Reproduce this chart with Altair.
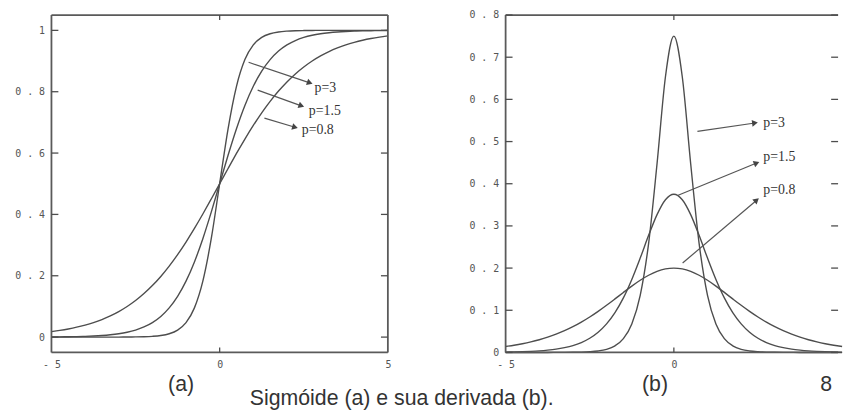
import altair as alt
import pandas as pd

# Sample positions along the horizontal axis
X = [-5.0, -4.75, -4.5, -4.25, -4.0, -3.75, -3.5, -3.25, -3.0, -2.75, -2.5,
     -2.25, -2.0, -1.75, -1.5, -1.25, -1.0, -0.75, -0.5, -0.25, 0.0,
     0.25, 0.5, 0.75, 1.0, 1.25, 1.5, 1.75, 2.0, 2.25, 2.5,
     2.75, 3.0, 3.25, 3.5, 3.75, 4.0, 4.25, 4.5, 4.75, 5.0]

# Sigmoid curves, one per slope p
SIG_P3 = [0.0, 0.0, 0.0, 0.0, 0.0, 0.0, 0.0, 0.0001, 0.0001, 0.0003, 0.0006,
          0.0012, 0.0025, 0.0052, 0.0110, 0.0230, 0.0474, 0.0953, 0.1824, 0.3208, 0.5,
          0.6792, 0.8176, 0.9047, 0.9526, 0.9770, 0.9890, 0.9948, 0.9975, 0.9988, 0.9994,
          0.9997, 0.9999, 0.9999, 1.0, 1.0, 1.0, 1.0, 1.0, 1.0, 1.0]
SIG_P15 = [0.0006, 0.0008, 0.0012, 0.0017, 0.0025, 0.0036, 0.0052, 0.0076, 0.0110, 0.0159, 0.0230,
           0.0331, 0.0474, 0.0675, 0.0953, 0.1330, 0.1824, 0.2451, 0.3208, 0.4073, 0.5,
           0.5927, 0.6792, 0.7549, 0.8176, 0.8670, 0.9047, 0.9325, 0.9526, 0.9669, 0.9770,
           0.9841, 0.9890, 0.9924, 0.9948, 0.9964, 0.9975, 0.9983, 0.9988, 0.9992, 0.9994]
SIG_P08 = [0.0180, 0.0219, 0.0266, 0.0323, 0.0392, 0.0474, 0.0573, 0.0691, 0.0832, 0.0998, 0.1192,
           0.1419, 0.1680, 0.1978, 0.2315, 0.2689, 0.3100, 0.3543, 0.4013, 0.4502, 0.5,
           0.5498, 0.5987, 0.6457, 0.6900, 0.7311, 0.7685, 0.8022, 0.8320, 0.8581, 0.8808,
           0.9002, 0.9168, 0.9309, 0.9427, 0.9526, 0.9608, 0.9677, 0.9734, 0.9781, 0.9820]

# Derivatives of the same curves
DER_P3 = [0.0, 0.0, 0.0, 0.0, 0.0, 0.0, 0.0001, 0.0002, 0.0004, 0.0008, 0.0017,
          0.0035, 0.0074, 0.0157, 0.0326, 0.0674, 0.1355, 0.2587, 0.4474, 0.6537, 0.75,
          0.6537, 0.4474, 0.2587, 0.1355, 0.0674, 0.0326, 0.0157, 0.0074, 0.0035, 0.0017,
          0.0008, 0.0004, 0.0002, 0.0001, 0.0, 0.0, 0.0, 0.0, 0.0, 0.0]
DER_P15 = [0.0008, 0.0012, 0.0018, 0.0026, 0.0037, 0.0054, 0.0078, 0.0114, 0.0163, 0.0235, 0.0337,
           0.0480, 0.0678, 0.0944, 0.1293, 0.1730, 0.2237, 0.2776, 0.3268, 0.3621, 0.375,
           0.3621, 0.3268, 0.2776, 0.2237, 0.1730, 0.1293, 0.0944, 0.0678, 0.0480, 0.0337,
           0.0235, 0.0163, 0.0114, 0.0078, 0.0054, 0.0037, 0.0026, 0.0018, 0.0012, 0.0008]
DER_P08 = [0.0141, 0.0171, 0.0207, 0.0250, 0.0301, 0.0361, 0.0432, 0.0515, 0.0610, 0.0719, 0.0840,
           0.0974, 0.1118, 0.1269, 0.1423, 0.1573, 0.1711, 0.1830, 0.1922, 0.1980, 0.2,
           0.1980, 0.1922, 0.1830, 0.1711, 0.1573, 0.1423, 0.1269, 0.1118, 0.0974, 0.0840,
           0.0719, 0.0610, 0.0515, 0.0432, 0.0361, 0.0301, 0.0250, 0.0207, 0.0171, 0.0141]

SERIES = ["p=3", "p=1.5", "p=0.8"]
X_TICKS_A = [-5, 0, 5]
X_TICKS_B = [-5, 0]
Y_TICKS_A = [0, 0.2, 0.4, 0.6, 0.8, 1]
Y_TICKS_B = [0, 0.1, 0.2, 0.3, 0.4, 0.5, 0.6, 0.7, 0.8]


def long_table(columns):
    rows = []
    for name, values in zip(SERIES, columns):
        for x, y in zip(X, values):
            rows.append({"x": x, "y": y, "p": name})
    return pd.DataFrame(rows)


sig_df = long_table([SIG_P3, SIG_P15, SIG_P08])
der_df = long_table([DER_P3, DER_P15, DER_P08])

# Annotation arrows (start, end, label anchor) in each panel's data units
ann_a = pd.DataFrame({
    "label": SERIES,
    "x0": [0.86, 1.13, 1.33], "y0": [0.896, 0.805, 0.714],
    "x1": [2.68, 2.43, 2.24], "y1": [0.829, 0.754, 0.684],
    "lx": [2.82, 2.65, 2.44], "ly": [0.812, 0.738, 0.674],
    "ang": [19, 20, 16],
})
ann_b = pd.DataFrame({
    "label": SERIES,
    "x0": [0.70, 0.11, 0.26], "y0": [0.524, 0.372, 0.212],
    "x1": [2.41, 2.46, 2.46], "y1": [0.544, 0.449, 0.361],
    "lx": [2.66, 2.66, 2.66], "ly": [0.545, 0.464, 0.386],
    "ang": [352, 338, 320],
})

INK = "#4d4d4d"
FRAME = "#5a5a5a"
H = 341


def frame_line(**enc):
    return alt.Chart().mark_rule(color=FRAME, strokeWidth=1.8).encode(**enc)


def panel(df, xmax, width, xticks, ydomain, yticks, ann, captions, right_edge):
    xs = alt.Scale(domain=[-5, xmax], nice=False, zero=False)
    ys = alt.Scale(domain=ydomain, nice=False, zero=False)

    # Axes are carried by the curve layer: labels only
    curves = alt.Chart(df).mark_line(
        interpolate="monotone", color=INK, strokeWidth=1.4
    ).encode(
        x=alt.X("x:Q", scale=xs, title=None,
                axis=alt.Axis(values=xticks, labelFlush=False,
                              labelExpr="datum.value < 0 ? '- ' + format(abs(datum.value), 'd') : format(datum.value, 'd')")),
        y=alt.Y("y:Q", scale=ys, title=None,
                axis=alt.Axis(values=yticks, labelFlush=False,
                              labelExpr="replace(format(datum.value, '~g'), '.', ' . ')")),
        detail="p:N",
    )

    # Box around the plot area
    frame = [
        frame_line(x=alt.value(0), y=alt.value(0), y2=alt.value(H)),
        frame_line(x=alt.value(0), x2=alt.value(width), y=alt.value(0)),
        frame_line(x=alt.value(0), x2=alt.value(width), y=alt.value(H)),
    ]
    if right_edge:
        frame.append(frame_line(x=alt.value(width), y=alt.value(0), y2=alt.value(H)))

    # Inward tick marks on both sides and at the centre of top and bottom
    tick_df = pd.DataFrame({"y": yticks})
    left_ticks = alt.Chart(tick_df).mark_rule(color=INK, strokeWidth=1.3).encode(
        y=alt.Y("y:Q", title=None), x=alt.value(0), x2=alt.value(7))
    right_ticks = alt.Chart(tick_df).mark_rule(color=INK, strokeWidth=1.3).encode(
        y=alt.Y("y:Q", title=None), x=alt.value(width - 7), x2=alt.value(width))
    mid_df = pd.DataFrame({"x": [0]})
    top_tick = alt.Chart(mid_df).mark_rule(color=INK, strokeWidth=1.3).encode(
        x=alt.X("x:Q", title=None), y=alt.value(0), y2=alt.value(5))
    bottom_tick = alt.Chart(mid_df).mark_rule(color=INK, strokeWidth=1.3).encode(
        x=alt.X("x:Q", title=None), y=alt.value(H - 5), y2=alt.value(H))

    arrows = alt.Chart(ann).mark_rule(color="#555", strokeWidth=1.2).encode(
        x=alt.X("x0:Q", title=None), y=alt.Y("y0:Q", title=None),
        x2="x1:Q", y2="y1:Q")
    heads = alt.Chart(ann).mark_point(
        shape="triangle-right", filled=True, size=45, color="#444", opacity=1
    ).encode(
        x=alt.X("x1:Q", title=None), y=alt.Y("y1:Q", title=None),
        angle=alt.Angle("ang:Q", scale=None))
    labels = alt.Chart(ann).mark_text(
        align="left", baseline="middle", font="Liberation Serif", fontSize=14, color="#333"
    ).encode(
        x=alt.X("lx:Q", title=None), y=alt.Y("ly:Q", title=None), text="label:N")

    layers = [curves] + frame + [left_ticks, right_ticks, top_tick, bottom_tick,
                                 arrows, heads, labels]
    for text, px, py in captions:
        layers.append(
            alt.Chart(pd.DataFrame({"t": [text]})).mark_text(
                align="center", baseline="middle", font="Liberation Sans",
                fontSize=21.5, color="#333"
            ).encode(text="t:N", x=alt.value(px), y=alt.value(py))
        )
    return alt.layer(*layers).properties(width=width, height=H)


panel_a = panel(sig_df, 5, 340, X_TICKS_A, [-0.05, 1.05], Y_TICKS_A, ann_a,
                [("(a)", 131, 374), ("Sigmóide (a) e sua derivada (b).", 354, 388)],
                right_edge=True)
# The right panel runs past the edge of the page; only its visible part is drawn
panel_b = panel(der_df, 4.88, 336, X_TICKS_B, [0, 0.8], Y_TICKS_B, ann_b,
                [("(b)", 151, 374), ("8", 324, 374)],
                right_edge=False)

chart = alt.hconcat(panel_a, panel_b, spacing=119, bounds="flush").properties(
    padding={"left": 14, "top": 8, "right": 0, "bottom": 0},
    background="white",
).configure_view(
    stroke=None
).configure_axis(
    domain=False, ticks=False, tickSize=0, grid=False,
    labelFont="DejaVu Sans Mono", labelFontSize=10, labelColor="#555", labelPadding=7,
)

chart.save("out.html", embed_options={"renderer": "svg", "actions": False})
